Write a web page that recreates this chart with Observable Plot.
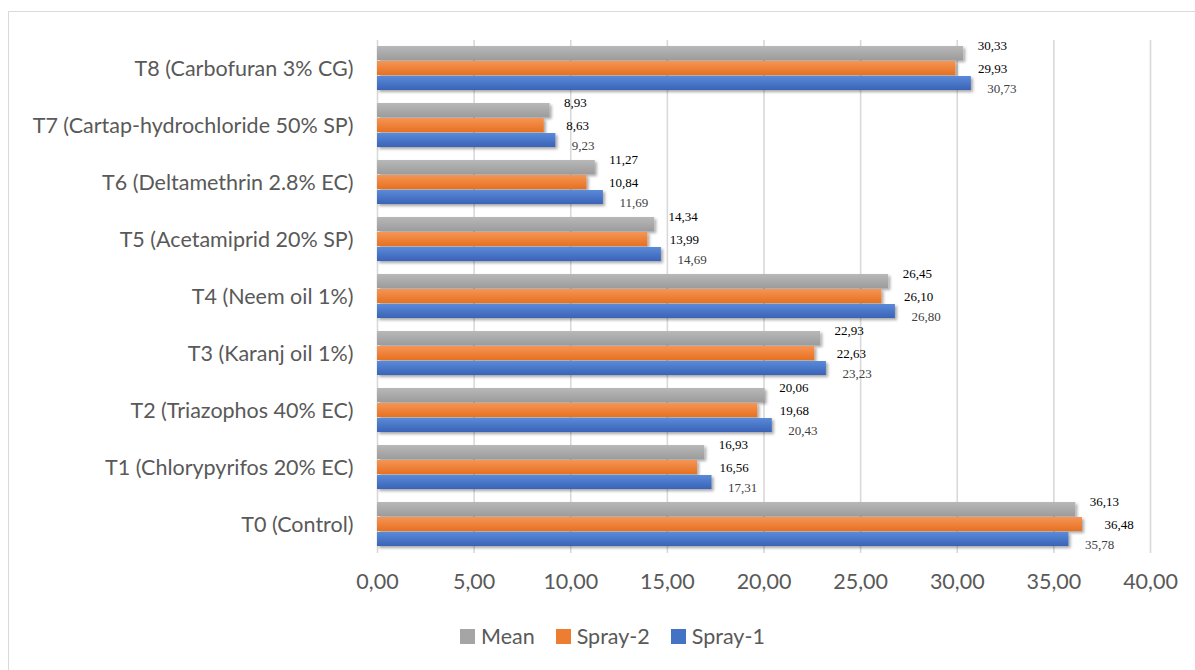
<!DOCTYPE html>
<html>
<head>
<meta charset="utf-8">
<script src="https://cdn.jsdelivr.net/npm/d3@7"></script>
<script src="https://cdn.jsdelivr.net/npm/@observablehq/plot@0.6"></script>
<style>
  html, body { margin: 0; padding: 0; background: #fff; overflow: hidden; }
  #wrap { position: relative; width: 1195px; height: 670px; }
  #frame { position: absolute; left: 8px; top: 11px; width: 1200px; height: 700px; border: 1px solid #d9d9d9; box-sizing: border-box; }
  #chart { position: absolute; left: 0; top: 0; }
  #legend { position: absolute; left: 460px; top: 623px; display: flex; align-items: center; font-family: Lato, sans-serif; font-size: 21.5px; color: #595959; }
  #legend .item { display: flex; align-items: center; margin-right: 21px; }
  #legend .sw { width: 15px; height: 15px; margin-right: 6px; }
</style>
</head>
<body>
<div id="wrap">
  <div id="frame"></div>
  <div id="chart"></div>
  <div id="legend"></div>
</div>
<script>
const treatments = [
  "T0 (Control)",
  "T1 (Chlorypyrifos 20% EC)",
  "T2 (Triazophos 40% EC)",
  "T3 (Karanj oil 1%)",
  "T4 (Neem oil 1%)",
  "T5 (Acetamiprid 20% SP)",
  "T6 (Deltamethrin 2.8% EC)",
  "T7 (Cartap-hydrochloride 50% SP)",
  "T8 (Carbofuran 3% CG)"
];
const spray1 = [35.78, 17.31, 20.43, 23.23, 26.80, 14.69, 11.69, 9.23, 30.73];
const spray2 = [36.48, 16.56, 19.68, 22.63, 26.10, 13.99, 10.84, 8.63, 29.93];
const meanVals = [36.13, 16.93, 20.06, 22.93, 26.45, 14.34, 11.27, 8.93, 30.33];
const seriesNames = ["Mean", "Spray-2", "Spray-1"];
const seriesColors = ["#a5a5a5", "#ed7d31", "#4472c4"];
const xTicks = [0, 5, 10, 15, 20, 25, 30, 35, 40];

const seriesValues = {"Mean": meanVals, "Spray-2": spray2, "Spray-1": spray1};
const rows = [];
treatments.forEach((t, i) => {
  seriesNames.forEach(s => rows.push({treatment: t, series: s, value: seriesValues[s][i]}));
});
const fmt = v => v.toFixed(2).replace(".", ",");

const labelStyle = {fontFamily: "'Liberation Serif', 'Times New Roman', serif", fontSize: 13, textAnchor: "start"};

const chart = Plot.plot({
  width: 1195,
  height: 610,
  marginLeft: 377,
  marginRight: 45,
  marginTop: 40,
  marginBottom: 57,
  style: {fontFamily: "Lato, sans-serif", fontSize: "21.5px", color: "#595959", background: "transparent"},
  x: {domain: [0, 40], ticks: xTicks, tickFormat: fmt, tickSize: 0, tickPadding: 20, label: null, line: false},
  y: {domain: seriesNames, paddingInner: 0.05, paddingOuter: 0.365, axis: null},
  fy: {domain: treatments.slice().reverse(), padding: 0, label: null, tickSize: 0, tickPadding: 24, axis: "left"},
  color: {domain: seriesNames, range: seriesColors},
  facet: {data: rows, y: "treatment"},
  marks: [
    Plot.ruleX(xTicks, {stroke: "#d9d9d9", strokeWidth: 1.6}),
    Plot.barX(rows, {x: "value", y: "series", fill: "series"}),
    Plot.text(rows, {filter: d => d.series === "Mean", x: "value", y: "series", text: d => fmt(d.value), dx: 14, dy: -8, fill: "#000", ...labelStyle}),
    Plot.text(rows, {filter: d => d.series === "Spray-2", x: "value", y: "series", text: d => fmt(d.value), dx: 22, dy: 0, fill: "#000", ...labelStyle}),
    Plot.text(rows, {filter: d => d.series === "Spray-1", x: "value", y: "series", text: d => fmt(d.value), dx: 16, dy: 5, fill: "#404040", ...labelStyle})
  ]
});

// gradients + shadow
const ns = "http://www.w3.org/2000/svg";
const defs = document.createElementNS(ns, "defs");
const gradStops = {
  "#a5a5a5": ["#b8b8b8", "#9c9c9c"],
  "#ed7d31": ["#f59556", "#e7711f"],
  "#4472c4": ["#5b8ad8", "#3963b8"]
};
let gi = 0;
const gradMap = {};
for (const [c, [c1, c2]] of Object.entries(gradStops)) {
  const id = "grad" + (gi++);
  const lg = document.createElementNS(ns, "linearGradient");
  lg.setAttribute("id", id);
  lg.setAttribute("x1", "0"); lg.setAttribute("y1", "0");
  lg.setAttribute("x2", "0"); lg.setAttribute("y2", "1");
  [[0, c1], [1, c2]].forEach(([o, col]) => {
    const st = document.createElementNS(ns, "stop");
    st.setAttribute("offset", o);
    st.setAttribute("stop-color", col);
    lg.appendChild(st);
  });
  defs.appendChild(lg);
  gradMap[c] = "url(#" + id + ")";
}
const filt = document.createElementNS(ns, "filter");
filt.setAttribute("id", "shadow");
filt.setAttribute("x", "-5%"); filt.setAttribute("y", "-50%");
filt.setAttribute("width", "115%"); filt.setAttribute("height", "200%");
const fe = document.createElementNS(ns, "feDropShadow");
fe.setAttribute("dx", "2"); fe.setAttribute("dy", "2");
fe.setAttribute("stdDeviation", "1.6");
fe.setAttribute("flood-color", "#000");
fe.setAttribute("flood-opacity", "0.35");
filt.appendChild(fe);
defs.appendChild(filt);
chart.insertBefore(defs, chart.firstChild);
chart.querySelectorAll('g[aria-label="bar"] rect').forEach(r => {
  const f = (r.getAttribute("fill") || "").toLowerCase();
  if (gradMap[f]) r.setAttribute("fill", gradMap[f]);
  r.setAttribute("filter", "url(#shadow)");
});

document.getElementById("chart").appendChild(chart);

const legend = document.getElementById("legend");
seriesNames.forEach((s, i) => {
  const item = document.createElement("div");
  item.className = "item";
  const sw = document.createElement("div");
  sw.className = "sw";
  sw.style.background = seriesColors[i];
  const lab = document.createElement("span");
  lab.textContent = s;
  item.appendChild(sw);
  item.appendChild(lab);
  legend.appendChild(item);
});
</script>
</body>
</html>
